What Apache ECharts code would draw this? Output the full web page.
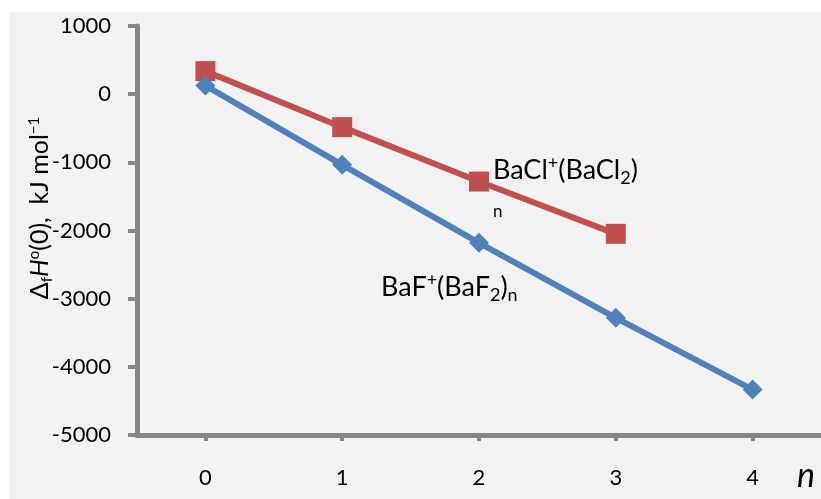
<!DOCTYPE html>
<html>
<head>
<meta charset="utf-8">
<script src="https://cdn.jsdelivr.net/npm/echarts@6/dist/echarts.min.js"></script>
<style>
html,body{margin:0;padding:0;background:#fff;}
#chart{width:821px;height:499px;}
</style>
</head>
<body>
<div id="chart"></div>
<script>
var categories = ['0', '1', '2', '3', '4'];
var bafValues = [126, -1037, -2181, -3281, -4333];
var baclValues = [338, -484, -1282, -2049];
var yMin = -5000, yMax = 1000, yStep = 1000;

var FONT = 'Lato';
var chart = echarts.init(document.getElementById('chart'));
var axisColor = '#868686';

chart.setOption({
  animation: false,
  backgroundColor: '#ffffff',
  textStyle: { fontFamily: FONT },
  graphic: [
    { type: 'rect', z: -10, shape: { x: 9, y: 12, width: 812, height: 487 }, style: { fill: '#f2f2f2' } },
    {
      type: 'text', x: 40, y: 208, rotation: Math.PI / 2, z: 10,
      style: {
        text: '{n|Δ}{sub|f}{it|H}{sup|o}{n|(0),  kJ mol}{sup|−1}',
        align: 'center', verticalAlign: 'middle',
        rich: {
          n: { fontFamily: FONT, fontSize: 25, fill: '#000' },
          it: { fontFamily: FONT, fontSize: 25, fontStyle: 'italic', fill: '#000' },
          sub: { fontFamily: FONT, fontSize: 15, fill: '#000', padding: [14, 0, 0, 0] },
          sup: { fontFamily: FONT, fontSize: 15, fill: '#000', padding: [0, 0, 12, 0] }
        }
      }
    },
    {
      type: 'text', x: 493, y: 170, z: 10,
      style: {
        text: '{n|BaCl}{sup|+}{n|(BaCl}{sub|2}{n|)}',
        align: 'left', verticalAlign: 'middle',
        rich: {
          n: { fontFamily: FONT, fontSize: 27, fill: '#000' },
          sub: { fontFamily: FONT, fontSize: 18, fill: '#000', padding: [16, 0, 0, 0] },
          sup: { fontFamily: FONT, fontSize: 18, fill: '#000', padding: [0, 0, 13, 0] }
        }
      }
    },
    {
      type: 'text', x: 493, y: 212, z: 10,
      style: { text: 'n', fontFamily: FONT, fontSize: 17, fill: '#000', align: 'left', verticalAlign: 'middle' }
    },
    {
      type: 'text', x: 381, y: 287, z: 10,
      style: {
        text: '{n|BaF}{sup|+}{n|(BaF}{sub|2}{n|)}{sub|n}',
        align: 'left', verticalAlign: 'middle',
        rich: {
          n: { fontFamily: FONT, fontSize: 27, fill: '#000' },
          sub: { fontFamily: FONT, fontSize: 18, fill: '#000', padding: [16, 0, 0, 0] },
          sup: { fontFamily: FONT, fontSize: 18, fill: '#000', padding: [0, 0, 13, 0] }
        }
      }
    },
    {
      type: 'text', x: 806, y: 476, z: 10,
      style: { text: 'n', fontFamily: FONT, fontSize: 34, fontStyle: 'italic', fill: '#000', align: 'center', verticalAlign: 'middle' }
    }
  ],
  grid: { left: 137, right: 0, top: 26, bottom: 64, containLabel: false },
  xAxis: {
    type: 'category',
    data: categories,
    boundaryGap: true,
    axisLine: { show: true, onZero: false, lineStyle: { color: axisColor, width: 5 } },
    axisTick: { show: true, alignWithLabel: true, length: 6, lineStyle: { color: axisColor, width: 4 } },
    axisLabel: { color: '#000', fontFamily: FONT, fontSize: 22, margin: 32 },
    splitLine: { show: false }
  },
  yAxis: {
    type: 'value',
    min: yMin, max: yMax, interval: yStep,
    axisLine: { show: true, onZero: false, lineStyle: { color: axisColor, width: 5 } },
    axisTick: { show: true, length: 9, lineStyle: { color: axisColor, width: 4 } },
    axisLabel: { color: '#000', fontFamily: FONT, fontSize: 22, margin: 26, formatter: function (v) { return String(v); } },
    splitLine: { show: false }
  },
  series: [
    {
      name: 'BaCl+(BaCl2)n', type: 'line', data: baclValues,
      symbol: 'rect', symbolSize: 20,
      lineStyle: { color: '#C0504D', width: 6 },
      itemStyle: { color: '#C0504D' }
    },
    {
      name: 'BaF+(BaF2)n', type: 'line', data: bafValues,
      symbol: 'diamond', symbolSize: [20, 20],
      lineStyle: { color: '#4F81BD', width: 6 },
      itemStyle: { color: '#4F81BD' }
    }
  ]
});
</script>
</body>
</html>
